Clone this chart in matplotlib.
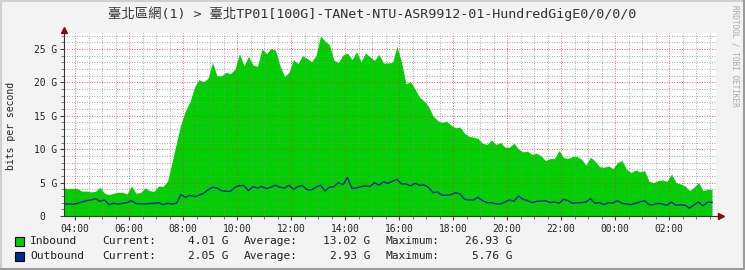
import matplotlib
matplotlib.use("Agg")
import matplotlib.pyplot as plt
import numpy as np
from matplotlib.patches import Rectangle
from matplotlib.ticker import FixedLocator, MultipleLocator

title = "臺北區網(1) > 臺北TP01[100G]-TANet-NTU-ASR9912-01-HundredGigE0/0/0/0"
ylabel = "bits per second"
watermark = "RRDTOOL / TOBI OETIKER"

start_hour = 3 + 35.5 / 60.0   # first sample time (hours)
step_min = 10                  # minutes between samples

inbound = [
    4.2, 4.1, 4.15, 4.1, 3.7, 3.75, 3.6, 3.7, 4.3, 3.4, 3.2, 3.4, 3.55, 3.55, 3.3, 4.5, 3.4, 3.5, 4.2, 3.8, 3.7, 4.5, 4.4, 5.2,
    8.0, 11.0, 13.8, 15.8, 17.1, 19.3, 20.4, 20.1, 20.6, 23.0, 21.0, 21.0, 21.5, 21.3, 22.0, 24.3, 22.5, 23.9, 22.6, 22.4, 25.0, 24.3, 25.1, 24.8, 22.5, 20.9,
    21.5, 23.4, 22.8, 24.0, 23.6, 23.1, 24.0, 26.93, 26.2, 25.6, 23.3, 23.0, 24.1, 24.4, 23.4, 24.6, 23.1, 24.4, 23.8, 23.3, 24.2, 22.9, 22.9, 23.0,
    25.4, 23.0, 19.8, 20.1, 19.0, 17.8, 17.2, 16.4, 15.0, 14.3, 14.0, 14.2, 13.6, 13.2, 13.3, 12.4, 11.9, 11.8, 11.6, 10.9, 10.7, 11.4, 10.7, 11.0, 10.3,
    10.3, 10.9, 10.0, 9.6, 9.7, 9.2, 9.4, 9.0, 8.3, 8.6, 8.6, 9.8, 8.75, 8.6, 8.9, 8.9, 8.5, 7.6, 8.8, 8.2, 7.4, 7.3, 7.5, 7.1,
    8.0, 8.3, 7.0, 6.5, 6.9, 6.6, 6.8, 5.2, 5.0, 5.3, 5.4, 5.2, 6.3, 5.0, 4.8, 4.5, 3.8, 4.3, 5.0, 3.8, 4.01,
]
outbound = [
    1.8, 1.8, 1.75, 1.9, 2.1, 2.3, 2.4, 2.6, 2.2, 2.4, 1.7, 1.9, 1.8, 1.9, 2.0, 2.3, 1.85, 1.85, 1.8, 1.85, 1.9, 2.0, 1.7, 1.9,
    1.8, 1.9, 3.2, 2.8, 3.1, 2.9, 3.1, 3.4, 3.9, 4.3, 4.2, 3.8, 3.7, 3.7, 4.3, 4.55, 4.55, 3.8, 4.4, 4.2, 4.4, 4.1, 4.3, 4.6, 4.3, 4.2,
    4.6, 4.0, 4.4, 4.55, 3.95, 3.9, 4.3, 4.6, 3.75, 4.3, 4.4, 5.0, 4.7, 5.76, 4.1, 4.2, 4.4, 4.5, 4.4, 5.0, 4.6, 5.1, 4.9, 5.2,
    5.5, 4.8, 4.8, 4.5, 4.9, 4.6, 4.65, 4.3, 3.5, 3.6, 3.1, 3.1, 3.2, 3.5, 3.3, 2.5, 2.4, 2.4, 2.8, 2.3, 2.0, 2.0, 1.8, 1.8, 2.1,
    2.4, 2.2, 3.0, 2.5, 2.3, 2.0, 2.2, 2.2, 2.3, 2.0, 2.1, 1.9, 2.5, 2.3, 1.9, 2.0, 2.0, 2.1, 2.6, 1.9, 2.0, 1.7, 2.0, 1.95,
    2.3, 1.9, 1.8, 1.7, 1.9, 2.1, 2.3, 1.7, 1.7, 1.9, 1.8, 1.6, 2.1, 1.6, 1.7, 1.6, 1.2, 1.65, 2.1, 1.5, 2.05,
]

xtick_hours = [4, 6, 8, 10, 12, 14, 16, 18, 20, 22, 24, 26]
xtick_labels = ["04:00", "06:00", "08:00", "10:00", "12:00", "14:00", "16:00",
                "18:00", "20:00", "22:00", "00:00", "02:00"]
ytick_values = [0, 5, 10, 15, 20, 25]
ytick_labels = ["0  ", "5 G", "10 G", "15 G", "20 G", "25 G"]

legend_rows = [
    ("Inbound", "#00CF00", "4.01 G", "13.02 G", "26.93 G"),
    ("Outbound", "#002A97", "2.05 G", "2.93 G", "5.76 G"),
]

MONO = ["DejaVu Sans Mono", "Noto Sans CJK TC"]
W, H = 745, 270
fig = plt.figure(figsize=(W / 100, H / 100), dpi=100)
fig.patch.set_facecolor("#F3F3F3")

# plot area in pixels
px_l, px_r, px_b, px_t = 64, 716, 216, 33
ax = fig.add_axes([px_l / W, 1 - px_b / H, (px_r - px_l) / W, (px_b - px_t) / H])
ax.set_facecolor("white")

n = len(inbound)
step_h = step_min / 60.0
t = np.concatenate([start_hour + np.arange(n) * step_h, [start_hour + 24.0]])
inb = np.concatenate([inbound, [inbound[-1]]])
outb = np.concatenate([outbound, [outbound[-1]]])

ax.fill_between(t, 0, inb, color="#00CF00", linewidth=0, zorder=2)
ax.plot(t, outb, color="#002A97", linewidth=1.0, zorder=4)

ax.set_xlim(start_hour, start_hour + (px_r - px_l) / 27.0)
ax.set_ylim(0, (px_b - px_t) / 6.68)

ax.xaxis.set_major_locator(FixedLocator(xtick_hours))
ax.xaxis.set_minor_locator(MultipleLocator(0.5))
ax.yaxis.set_major_locator(FixedLocator(ytick_values))
ax.yaxis.set_minor_locator(MultipleLocator(1))
ax.set_xticklabels(xtick_labels)
ax.set_yticklabels(ytick_labels)

for lab in ax.get_xticklabels() + ax.get_yticklabels():
    lab.set_fontfamily(MONO)
    lab.set_fontsize(6.9)
    lab.set_color("#222222")

ax.tick_params(axis="both", which="major", length=3, width=0.8, color="#444444", pad=2)
ax.tick_params(axis="both", which="minor", length=2, width=0.6, color="#666666")
ax.tick_params(axis="x", which="major", pad=3)

ax.grid(True, which="minor", color=(0.55, 0.55, 0.55, 0.4), linestyle=(0, (1, 2)), linewidth=0.6, zorder=5)
ax.grid(True, which="major", color=(0.9, 0.2, 0.2, 0.45), linestyle=(0, (1, 2)), linewidth=0.6, zorder=5)
ax.set_axisbelow(False)

for s in ["top", "right"]:
    ax.spines[s].set_visible(False)
ax.spines["left"].set_color("#333333")
ax.spines["bottom"].set_color("#333333")
ax.spines["left"].set_zorder(6)
ax.spines["bottom"].set_zorder(6)

# axis extension and arrows
ax.plot([1.0, 1.008], [0, 0], transform=ax.transAxes, color="#333333", lw=0.8, clip_on=False, zorder=6)
ax.plot([1.008], [0], marker=">", markersize=5, color="#7F1010", transform=ax.transAxes, clip_on=False, zorder=7)
ax.plot([0], [1.015], marker="^", markersize=5, color="#7F1010", transform=ax.transAxes, clip_on=False, zorder=7)

fig.text(11 / W, 1 - 126 / H, ylabel, ha="center", va="center", rotation=90,
         fontfamily=MONO, fontsize=7, color="#222222")

fig.text(372 / W, 1 - 14 / H, title, ha="center", va="center", fontfamily=MONO, fontsize=9.6, color="#333333")
fig.text(735 / W, 1 - 5 / H, watermark, ha="center", va="top", rotation=270, fontfamily=MONO, fontsize=5.6, color="#AAAAAA")

# legend
for i, (name, col, cur, avg, mx) in enumerate(legend_rows):
    yc = 1 - (241.5 + 14.5 * i) / H
    fig.patches.append(Rectangle((15 / W, yc - 4.5 / H), 8.5 / W, 9 / H, transform=fig.transFigure,
                                 facecolor=col, edgecolor="#000000", linewidth=0.8))
    kw = dict(va="center", fontfamily=MONO, fontsize=8.1, color="#222222")
    fig.text(30 / W, yc, name, ha="left", **kw)
    fig.text(102 / W, yc, "Current:", ha="left", **kw)
    fig.text(228 / W, yc, cur, ha="right", **kw)
    fig.text(244 / W, yc, "Average:", ha="left", **kw)
    fig.text(370 / W, yc, avg, ha="right", **kw)
    fig.text(386 / W, yc, "Maximum:", ha="left", **kw)
    fig.text(512 / W, yc, mx, ha="right", **kw)

# 3D frame
fig.add_artist(plt.Line2D([0.5 / W, 0.5 / W, 1 - 0.5 / W], [0, 1 - 0.5 / H, 1 - 0.5 / H],
                          transform=fig.transFigure, color="#CFCFCF", lw=1.5))
fig.add_artist(plt.Line2D([0.5 / W, 1 - 1 / W, 1 - 1 / W], [1 / H, 1 / H, 1 - 0.5 / H],
                          transform=fig.transFigure, color="#9A9A9A", lw=1.5))

fig.savefig("out.png", dpi=100, facecolor=fig.get_facecolor())
